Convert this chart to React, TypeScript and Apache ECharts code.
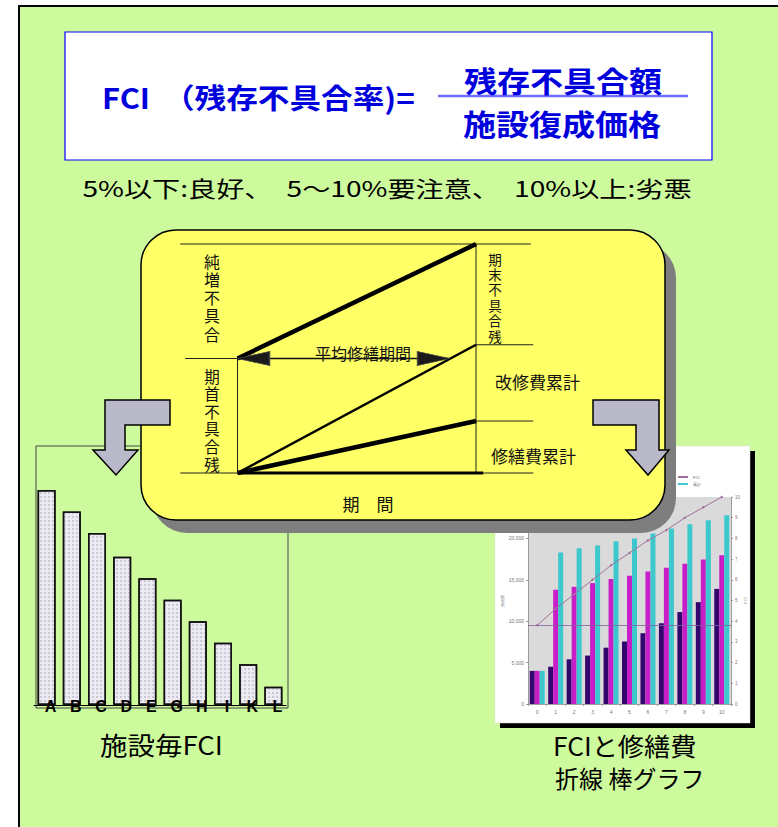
import React, { useEffect, useRef } from 'react';
import * as echarts from 'echarts';

// ---------- data ----------
const facilityNames = ['A', 'B', 'C', 'D', 'E', 'G', 'H', 'I', 'K', 'L'];
const facilityFci = [10, 9, 8, 6.9, 5.9, 4.9, 3.9, 2.9, 1.9, 0.85];

const years = ['0', '1', '2', '3', '4', '5', '6', '7', '8', '9', '10'];
const repairCost = [4000, 4500, 5400, 5850, 6800, 7550, 8550, 9750, 11100, 12300, 13900];
const renovationCost = [4000, 13800, 14150, 14600, 15100, 15500, 16000, 16450, 16950, 17450, 17950];
const cumulativeCost = [4000, 18300, 18800, 19150, 19650, 20000, 20600, 21200, 21700, 22200, 22800];
const fciRate = [3.8, 4.6, 5.3, 6.0, 6.7, 7.3, 7.9, 8.4, 9.0, 9.5, 10.0];
const fciReference = 3.8;
const costTicks = [0, 25000, 5000];
const rateTicks = [0, 10, 1];

// concept diagram (x: period 0..1, y: defect amount 0..10)
const netIncreaseLine = [[0, 5], [1, 10]];
const renovationLine = [[0, 0], [1, 5.6]];
const repairLine = [[0, 0], [1, 2.27]];
const averagePeriod = [[0, 5], [0.89, 5]];
const averagePeriodHeads = [[0.067, 5], [0.822, 5]];
const guideLines = [
  [[-0.24, 10], [1.23, 10]],
  [[-0.22, 5], [0, 5]],
  [[0, 0], [0, 5]],
  [[1, 0], [1, 10]],
  [[1, 5.6], [1.24, 5.6]],
  [[1, 2.27], [1.24, 2.27]],
  [[-0.24, 0], [1.24, 0]],
];
const baseSpan = [[0, 0], [1.03, 0]];

const FONT = '"Noto Sans CJK JP", "Noto Sans", sans-serif';
const VFONT = '"Liberation Sans", "Noto Sans CJK JP", sans-serif';

function txt(text: string, x: number, y: number, size: number, o: any = {}) {
  const align = o.align || 'left';
  const va = o.va || 'middle';
  return {
    type: 'text',
    x,
    y,
    z: o.z ?? 20,
    scaleX: o.scaleX ?? 1,
    silent: true,
    style: {
      text,
      fontSize: size,
      fontFamily: o.family || FONT,
      fontWeight: o.weight || 'normal',
      fill: o.fill || '#000',
      align,
      textAlign: align,
      verticalAlign: va,
      textVerticalAlign: va,
    },
  };
}

// vertical text: one element per character
function vtxt(text: string, x: number, yFirst: number, size: number, step: number) {
  return text
    .split('')
    .map((ch, i) => txt(ch, x, yFirst + i * step, size, { align: 'center', fill: '#111', family: VFONT }));
}

function segSeries(data: number[][], width: number, color = '#000') {
  return {
    type: 'line',
    xAxisIndex: 2,
    yAxisIndex: 3,
    data,
    symbol: 'none',
    silent: true,
    z: 12,
    lineStyle: { color, width },
  };
}

export default function App() {
  const ref = useRef<HTMLDivElement>(null);
  useEffect(() => {
    if (!ref.current) return;
    const chart = echarts.init(ref.current, undefined, { renderer: 'svg' });

    const graphics: any[] = [
      // green frame
      { type: 'rect', z: -5, silent: true, shape: { x: 19, y: 6, width: 775, height: 840 }, style: { fill: '#CCFA9C', stroke: '#000', lineWidth: 2 } },
      // formula box
      { type: 'rect', z: -4, silent: true, shape: { x: 65, y: 32, width: 647, height: 128 }, style: { fill: '#FFFFFF', stroke: '#0000FF', lineWidth: 1.2 } },
      { type: 'line', z: 20, silent: true, shape: { x1: 438, y1: 96, x2: 688, y2: 96 }, style: { stroke: '#6E6EFF', lineWidth: 2.5 } },
      txt('FCI', 102, 97, 28, { weight: 'bold', fill: '#0000DD', scaleX: 1.1 }),
      txt('（残存不具合率)=', 163, 97, 28, { weight: 'bold', fill: '#0000DD', scaleX: 1.13 }),
      txt('残存不具合額', 563, 80, 29, { weight: 'bold', fill: '#0000DD', scaleX: 1.14, align: 'center' }),
      txt('施設復成価格', 562, 123, 29, { weight: 'bold', fill: '#0000DD', scaleX: 1.14, align: 'center' }),
      txt('5%以下:良好、　5～10%要注意、　10%以上:劣悪', 387, 187, 22, { align: 'center', scaleX: 1.28 }),
      // left chart frame
      { type: 'rect', z: -4, silent: true, shape: { x: 36, y: 446, width: 252, height: 262 }, style: { fill: 'none', stroke: '#444', lineWidth: 1 } },
      // right chart paper
      { type: 'rect', z: -4, silent: true, shape: { x: 500, y: 451, width: 255, height: 277 }, style: { fill: '#000' } },
      { type: 'rect', z: -3, silent: true, shape: { x: 495, y: 446, width: 255, height: 277 }, style: { fill: '#FFFFFF', stroke: '#DDDDDD', lineWidth: 0.5 } },
      // yellow box + shadow
      { type: 'rect', z: 10, silent: true, shape: { x: 152, y: 243, width: 524, height: 290, r: 35 }, style: { fill: '#7E7E7E' } },
      { type: 'rect', z: 11, silent: true, shape: { x: 141, y: 230, width: 524, height: 290, r: 35 }, style: { fill: '#FFFF66', stroke: '#000', lineWidth: 1.5 } },
      // diagram texts
      ...vtxt('純増不具合', 212, 262, 16, 18.3),
      ...vtxt('期首不具合残', 212, 377, 15.5, 17.6),
      ...vtxt('期末不具合残', 495, 260, 13.5, 15.4),
      txt('平均修繕期間', 363, 353, 16, { align: 'center', fill: '#111' }),
      txt('改修費累計', 495, 381, 17, { fill: '#111' }),
      txt('修繕費累計', 491, 455, 17, { fill: '#111' }),
      txt('期　間', 368, 503, 17, { align: 'center', fill: '#111' }),
      // arrows
      {
        type: 'polygon', z: 14, silent: true,
        shape: { points: [[170, 400], [105, 400], [105, 450], [93, 450], [116, 475], [138, 450], [125, 450], [125, 425], [170, 425]] },
        style: { fill: '#B9B9C9', stroke: '#000', lineWidth: 1.5 },
      },
      {
        type: 'polygon', z: 14, silent: true,
        shape: { points: [[593, 400], [659, 400], [659, 450], [669, 450], [648, 475], [626, 450], [636, 450], [636, 425], [593, 425]] },
        style: { fill: '#B9B9C9', stroke: '#000', lineWidth: 1.5 },
      },
      // captions
      txt('施設毎FCI', 100, 745, 25, { scaleX: 1.1 }),
      txt('FCIと修繕費', 553, 745, 25, { scaleX: 1.05 }),
      txt('折線 棒グラフ', 555, 777, 24),
    ];

    const smallAxisLabel = { fontSize: 5, color: '#777', fontFamily: 'Arial, "Liberation Sans", sans-serif' };

    const option: any = {
      animation: false,
      backgroundColor: '#FFFFFF',
      graphic: { elements: graphics },
      legend: {
        show: true,
        left: 672,
        top: 470,
        orient: 'vertical',
        itemGap: 3,
        itemWidth: 10,
        itemHeight: 2,
        z: 4,
        textStyle: { fontSize: 4, color: '#666', padding: 0 },
        data: ['FCI', '累計'],
      },
      grid: [
        { left: 34, top: 490, width: 252, height: 215 },
        { left: 528, top: 497, width: 203, height: 207, show: true, backgroundColor: '#DADADA', borderWidth: 0, z: 1 },
        { left: 177.9, top: 221.1, width: 357.75, height: 274.8 },
      ],
      xAxis: [
        {
          gridIndex: 0, type: 'category', data: facilityNames, z: 5,
          axisTick: { show: false },
          axisLine: { lineStyle: { color: '#000', width: 1 } },
          axisLabel: { fontSize: 16, fontWeight: 'bold', fontFamily: 'Arial, "Liberation Sans", sans-serif', color: '#000', margin: -7, padding: [0, 0, 0, 8] },
        },
        {
          gridIndex: 1, type: 'category', data: years, z: 2,
          axisTick: { show: true, lineStyle: { color: '#999' }, length: 2 },
          axisLine: { lineStyle: { color: '#888', width: 0.8 } },
          axisLabel: { ...smallAxisLabel, margin: 5 },
        },
        { gridIndex: 2, type: 'value', min: -0.25, max: 1.25, show: false },
      ],
      yAxis: [
        { gridIndex: 0, type: 'value', min: 0, max: 10, show: false },
        {
          gridIndex: 1, type: 'value', min: costTicks[0], max: costTicks[1], interval: costTicks[2], z: 2,
          name: '修繕費', nameLocation: 'middle', nameGap: 18, nameTextStyle: { fontSize: 4, color: '#888' },
          axisLine: { show: true, lineStyle: { color: '#888', width: 0.8 } },
          axisTick: { show: true, length: 2, lineStyle: { color: '#999' } },
          splitLine: { show: false },
          axisLabel: { ...smallAxisLabel, margin: 4 },
        },
        {
          gridIndex: 1, type: 'value', position: 'right', min: rateTicks[0], max: rateTicks[1], interval: rateTicks[2], z: 2,
          name: 'FCI', nameLocation: 'middle', nameGap: 12, nameTextStyle: { fontSize: 4, color: '#888' },
          axisLine: { show: true, lineStyle: { color: '#888', width: 0.8 } },
          axisTick: { show: true, length: 2, lineStyle: { color: '#999' } },
          splitLine: { show: false },
          axisLabel: { ...smallAxisLabel, fontSize: 4.5, margin: 4 },
        },
        { gridIndex: 2, type: 'value', min: -1, max: 11, show: false },
      ],
      series: [
        {
          name: '施設毎FCI',
          type: 'bar',
          xAxisIndex: 0,
          yAxisIndex: 0,
          data: facilityFci,
          barWidth: 18,
          z: 2,
          itemStyle: {
            color: '#ECEAF3',
            borderColor: '#111',
            borderWidth: 1.5,
            decal: { symbol: 'circle', symbolSize: 0.8, color: 'rgba(140,140,160,0.55)', dashArrayX: 2, dashArrayY: 2 },
          },
        },
        {
          name: '修繕費', type: 'bar', xAxisIndex: 1, yAxisIndex: 1, data: repairCost,
          barWidth: 5, barGap: '0%', z: 3, itemStyle: { color: '#33066E' },
        },
        {
          name: '改修費', type: 'bar', xAxisIndex: 1, yAxisIndex: 1, data: renovationCost,
          barWidth: 5, barGap: '0%', z: 3, itemStyle: { color: '#C81EC8' },
        },
        {
          name: '累計', type: 'bar', xAxisIndex: 1, yAxisIndex: 1, data: cumulativeCost,
          barWidth: 5, barGap: '0%', z: 3, itemStyle: { color: '#3CC8CC' },
        },
        {
          name: 'FCI', type: 'line', xAxisIndex: 1, yAxisIndex: 2, data: fciRate, z: 4,
          symbol: 'diamond', symbolSize: 3,
          lineStyle: { color: '#A0709A', width: 1 },
          itemStyle: { color: '#A0709A' },
          markLine: {
            silent: true, symbol: 'none', label: { show: false },
            lineStyle: { color: '#8060A0', width: 0.8, type: 'solid' },
            data: [{ yAxis: fciReference }],
          },
        },
        ...guideLines.map((g) => segSeries(g, 1, '#222')),
        segSeries(baseSpan, 3),
        segSeries(netIncreaseLine, 4.5),
        segSeries(renovationLine, 2.5),
        segSeries(repairLine, 4.5),
        segSeries(averagePeriod, 1.5, '#111'),
        {
          type: 'line',
          xAxisIndex: 2,
          yAxisIndex: 3,
          silent: true,
          z: 13,
          lineStyle: { opacity: 0 },
          symbol: 'triangle',
          symbolSize: [14, 32],
          showSymbol: true,
          showAllSymbol: true,
          itemStyle: { color: '#1A1A1A', borderColor: '#444', borderWidth: 1 },
          data: [
            { value: averagePeriodHeads[0], symbolRotate: 90 },
            { value: averagePeriodHeads[1], symbolRotate: -90 },
          ],
        },
      ],
    };

    chart.setOption(option);
    return () => chart.dispose();
  }, []);

  return <div ref={ref} style={{ position: 'absolute', left: 0, top: 0, width: 778, height: 827 }} />;
}
